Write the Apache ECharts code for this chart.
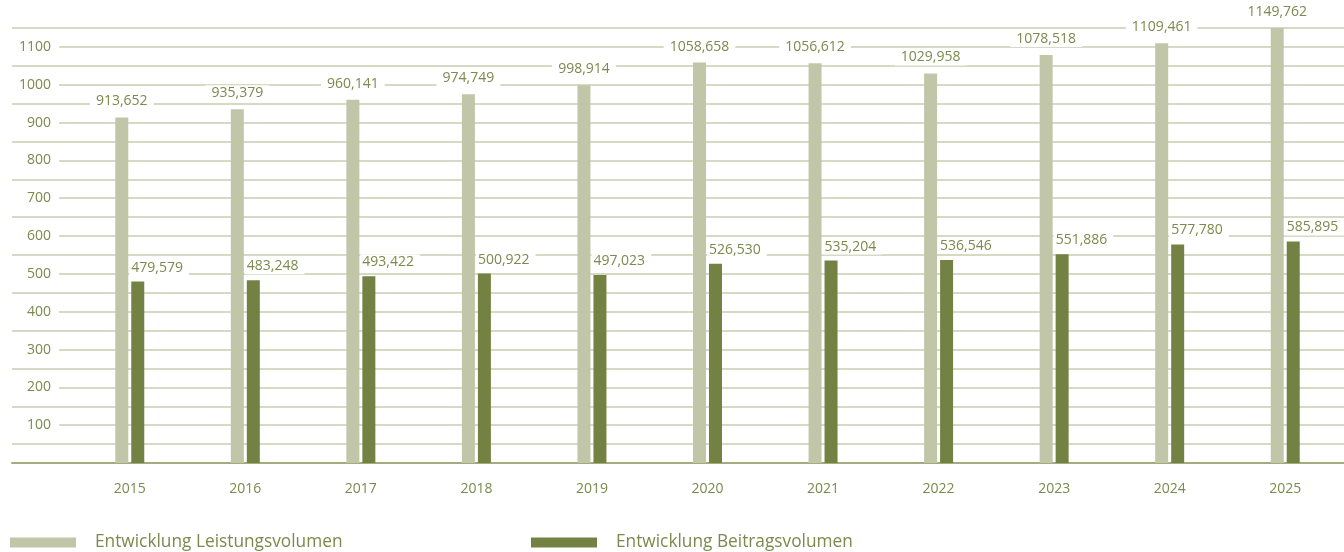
<!DOCTYPE html>
<html>
<head>
<meta charset="utf-8">
<script src="https://cdn.jsdelivr.net/npm/echarts@6/dist/echarts.min.js"></script>
<style>
  html, body { margin: 0; padding: 0; background: #fff; }
  #chart { width: 1344px; height: 552px; }
</style>
</head>
<body>
<div id="chart"></div>
<script>
  // Werte in Tausend (Label mit Komma wie im Original)
  var years = ['2015', '2016', '2017', '2018', '2019', '2020', '2021', '2022', '2023', '2024', '2025'];
  var leistung = [913.652, 935.379, 960.141, 974.749, 998.914, 1058.658, 1056.612, 1029.958, 1078.518, 1109.461, 1149.762];
  var beitrag = [479.579, 483.248, 493.422, 500.922, 497.023, 526.530, 535.204, 536.546, 551.886, 577.780, 585.895];
  var seriesNames = ['Entwicklung Leistungsvolumen', 'Entwicklung Beitragsvolumen'];

  var textColor = '#7b8a4d';
  var gridColor = '#c9cdb1';
  var lightColor = '#c2c6a9';
  var darkColor = '#738242';
  var font = '"Open Sans", "Noto Sans", sans-serif';

  function fmt(v) {
    return v.toFixed(3).replace('.', ',');
  }

  var chartDom = document.getElementById('chart');
  var chart = echarts.init(chartDom);

  var legendBase = {
    top: 534, padding: 0,
    icon: 'rect', itemWidth: 66, itemHeight: 10,
    textStyle: { color: textColor, fontSize: 17.3, fontFamily: font, padding: [2, 0, 0, 14] }
  };

  var option = {
    animation: false,
    textStyle: { fontFamily: font },
    grid: [
      { left: 10, right: 0, top: 28, bottom: 89 },
      { left: 72, right: 1, top: 28, bottom: 89 }
    ],
    legend: [
      echarts.util.extend({ data: [seriesNames[0]], left: 10 }, legendBase),
      echarts.util.extend({ data: [seriesNames[1]], left: 531 }, legendBase)
    ],
    xAxis: [
      {
        gridIndex: 0, type: 'category', data: years,
        axisLine: { show: true, lineStyle: { color: '#a3ac7d', width: 2 } },
        axisTick: { show: false }, axisLabel: { show: false }
      },
      {
        gridIndex: 1, type: 'category', data: years,
        axisLine: { show: false }, axisTick: { show: false },
        axisLabel: { color: textColor, fontSize: 14, fontFamily: font, margin: 19 }
      }
    ],
    yAxis: [
      {
        // Hilfslinien alle 50
        gridIndex: 0, type: 'value', min: 0, max: 1150, interval: 50, position: 'left',
        axisLine: { show: false }, axisTick: { show: false }, axisLabel: { show: false },
        splitLine: { show: true, lineStyle: { color: gridColor, width: 1.5 } }
      },
      {
        // Beschriftung alle 100
        gridIndex: 0, type: 'value', min: 0, max: 1150, interval: 100, position: 'left',
        offset: -48,
        axisLine: { show: false }, axisTick: { show: false }, splitLine: { show: false },
        axisLabel: {
          color: textColor, fontSize: 14, fontFamily: font, margin: 1,
          showMinLabel: false, showMaxLabel: false,
          backgroundColor: '#fff', padding: [2, 8, 2, 16],
          formatter: function(v) { return String(v); }
        }
      },
      {
        gridIndex: 1, type: 'value', min: 0, max: 1150, show: false
      }
    ],
    series: [
      {
        name: seriesNames[0], type: 'bar', xAxisIndex: 1, yAxisIndex: 2,
        data: leistung, barWidth: 13, barGap: '23%',
        itemStyle: { color: lightColor },
        label: {
          show: true, position: 'top', distance: 8,
          color: textColor, fontSize: 14, fontFamily: font,
          backgroundColor: '#fff', padding: [1, 6, 1, 6],
          formatter: function(p) { return fmt(p.value); }
        }
      },
      {
        name: seriesNames[1], type: 'bar', xAxisIndex: 1, yAxisIndex: 2,
        data: beitrag, barWidth: 13,
        itemStyle: { color: darkColor },
        label: {
          show: true, position: 'top', distance: 6, align: 'left', offset: [-8.5, 0],
          color: textColor, fontSize: 14, fontFamily: font,
          backgroundColor: '#fff', padding: [1, 6, 1, 2],
          formatter: function(p) { return fmt(p.value); }
        }
      }
    ]
  };

  chart.setOption(option);
</script>
</body>
</html>
